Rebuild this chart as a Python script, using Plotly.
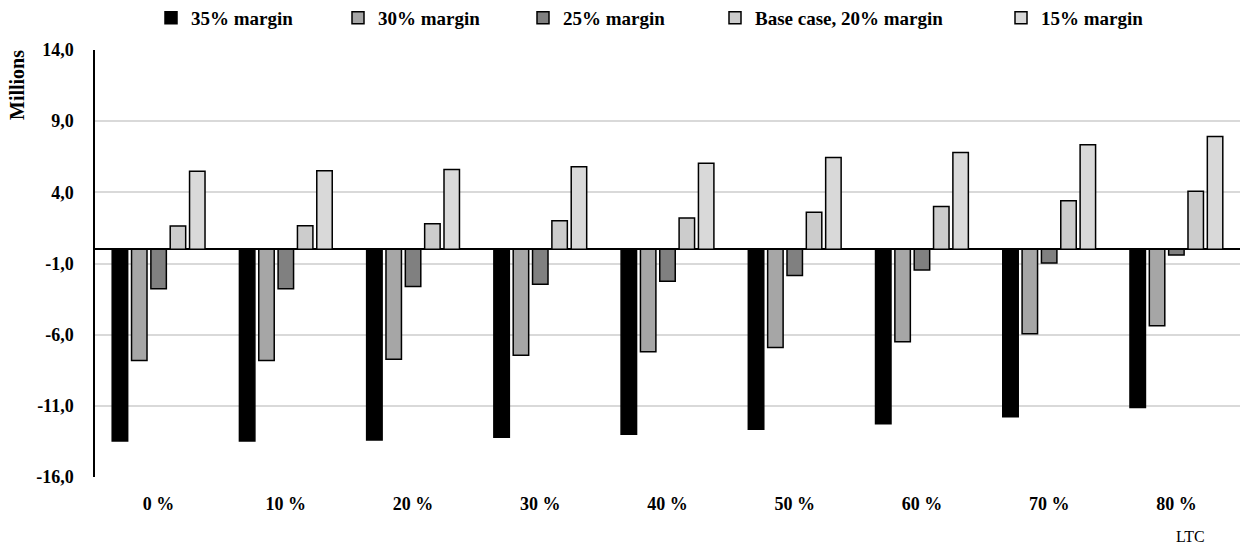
import plotly.graph_objects as go

categories = ["0 %", "10 %", "20 %", "30 %", "40 %", "50 %", "60 %", "70 %", "80 %"]
series_names = ["35% margin", "30% margin", "25% margin", "Base case, 20% margin", "15% margin"]
m35 = [-13.47, -13.47, -13.40, -13.20, -13.00, -12.65, -12.25, -11.76, -11.12]
m30 = [-7.82, -7.82, -7.73, -7.45, -7.20, -6.90, -6.50, -5.94, -5.38]
m25 = [-2.78, -2.78, -2.62, -2.45, -2.25, -1.85, -1.45, -0.96, -0.40]
m20 = [1.64, 1.66, 1.80, 2.00, 2.20, 2.60, 3.00, 3.41, 4.07]
m15 = [5.49, 5.52, 5.60, 5.80, 6.05, 6.45, 6.80, 7.34, 7.92]
y_ticks = [14, 9, 4, -1, -6, -11, -16]
y_tick_labels = ["14,0", "9,0", "4,0", "-1,0", "-6,0", "-11,0", "-16,0"]

values = [m35, m30, m25, m20, m15]
fills = ["#000000", "#a6a6a6", "#808080", "#cccccc", "#d9d9d9"]
legend_ids = ["legend", "legend2", "legend3", "legend4", "legend5"]
legend_text_px = [193, 380, 565, 757, 1043]

font_family = "Liberation Serif, Times New Roman, serif"
W, H = 1248, 547
ML, MR, MT, MB = 95, 8, 50, 70
pw = W - ML - MR
ph = H - MT - MB

fig = go.Figure()
for name, vals, col, lg in zip(series_names, values, fills, legend_ids):
    fig.add_trace(go.Bar(
        x=categories, y=vals, name=name, legend=lg, showlegend=True,
        marker=dict(color=col, line=dict(color="#000000", width=1.5)),
    ))

legend_font = dict(family=font_family, size=19, color="#000000", weight="bold")
legend_layouts = {}
for lg, tx in zip(legend_ids, legend_text_px):
    legend_layouts[lg] = dict(
        orientation="h", x=(tx - 42 - ML) / pw, xanchor="left",
        y=(H - MB + 1) / ph, yanchor="top", yref="paper",
        font=legend_font, itemwidth=30, bgcolor="rgba(0,0,0,0)",
        visible=True,
    )

fig.update_layout(
    width=W, height=H,
    margin=dict(l=ML, r=MR, t=MT, b=MB, autoexpand=False),
    showlegend=True,
    paper_bgcolor="white", plot_bgcolor="white",
    barmode="group", bargap=0.24, bargroupgap=0.2,
    font=dict(family=font_family, size=15, color="#000000"),
    xaxis=dict(showgrid=False, showline=False, ticks="", ticklabelstandoff=14,
               tickfont=dict(family=font_family, size=18, color="#000000", weight="bold")),
    yaxis=dict(range=[-16, 14], tickvals=y_ticks, ticktext=y_tick_labels,
               showgrid=True, gridcolor="#d9d9d9", gridwidth=1.5,
               showline=True, linecolor="#000000", linewidth=1.5,
               zeroline=True, zerolinecolor="#000000", zerolinewidth=1.5,
               ticks="", ticklen=0, ticklabelstandoff=16,
               tickfont=dict(family=font_family, size=18, color="#000000", weight="bold")),
    annotations=[
        dict(text="Millions", textangle=-90, x=(17 - ML) / pw, y=(H - MB - 85) / ph,
             xref="paper", yref="paper", xanchor="center", yanchor="middle",
             showarrow=False, font=dict(family=font_family, size=20, weight="bold")),
        dict(text="LTC", x=(1190 - ML) / pw, y=(H - MB - 536) / ph,
             xref="paper", yref="paper", xanchor="center", yanchor="middle",
             showarrow=False, font=dict(family=font_family, size=16)),
    ],
    **legend_layouts,
)

fig.write_html("out.html")
